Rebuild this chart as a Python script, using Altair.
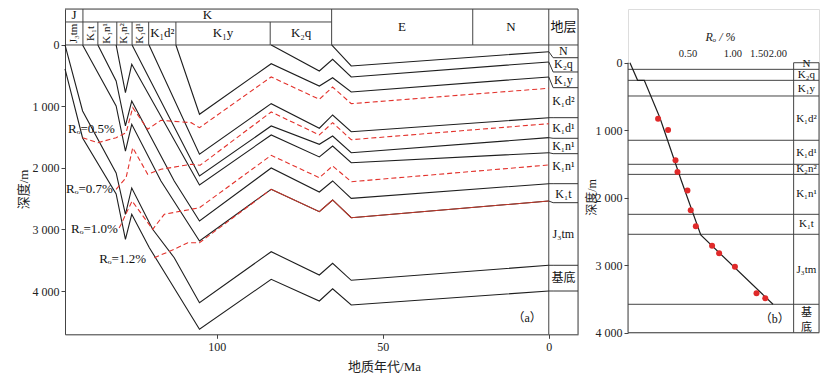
import altair as alt
import pandas as pd

FONT = "Liberation Serif, Noto Sans CJK SC"
BLACK = "#1e1e1e"
RED = "#e3312b"

# ---------------- panel (a): burial history ----------------
AGE_LEFT, AGE_RIGHT = 145.7, -8.8
DEPTH_TOP, DEPTH_BOTTOM = -585, 4704

horizon_names = ["K2q", "K1y", "K1d2", "K1d1", "K1n2", "K1n1", "K1t", "J3tm", "basement", "deep"]
horizon_ages = [
    [65.4, 59.5, 0],
    [83.6, 69.1, 65.1, 59.5, 0],
    [112.3, 105.2, 83.6, 69.1, 65.1, 59.5, 0],
    [120.4, 105.2, 83.6, 69.1, 65.1, 59.5, 0],
    [125.5, 105.2, 83.6, 69.1, 65.1, 59.5, 0],
    [130.3, 127.5, 125.6, 105.2, 83.6, 69.1, 65.1, 59.5, 0],
    [135.8, 130.3, 127.5, 125.6, 112.8, 105.2, 83.6, 69.1, 65.1, 59.5, 0],
    [140.4, 130.3, 127.5, 125.6, 116.8, 105.2, 83.6, 69.1, 65.1, 59.5, 0],
    [145.7, 140.4, 130.3, 127.5, 125.6, 119.3, 112.8, 105.2, 83.6, 69.1, 65.1, 59.5, 0],
    [145.7, 140.4, 130.3, 127.5, 125.6, 120.3, 113.8, 105.2, 83.6, 69.1, 65.1, 59.5, 0],
]
horizon_depths = [
    [0, 341, 109],
    [0, 423, 233, 520, 276],
    [0, 1127, 304, 667, 532, 764, 520],
    [0, 1777, 954, 1354, 1138, 1410, 1182],
    [0, 2130, 1317, 1615, 1480, 1751, 1507],
    [0, 776, 314, 2276, 1463, 1821, 1642, 1914, 1751],
    [0, 585, 1317, 911, 2211, 2862, 2000, 2390, 2211, 2493, 2255],
    [0, 992, 1724, 1289, 2211, 3187, 2346, 2711, 2520, 2808, 2537],
    [0, 1073, 2081, 2753, 2325, 2997, 3459, 4190, 3361, 3740, 3550, 3826, 3582],
    [390, 1512, 2423, 3159, 2753, 3296, 3865, 4623, 3810, 4163, 3963, 4228, 4000],
]

ro_names = ["0.5", "0.7", "1.0", "1.2"]
ro_ages = [
    [140.4, 135.8, 130.3, 127.3, 125.3, 120.8, 116.8, 107.7, 105.2, 83.6, 69.1, 65.1, 59.5, 0],
    [130.3, 127.3, 125.3, 120.8, 116.8, 107.7, 105.0, 83.6, 69.1, 65.1, 59.5, 0],
    [129.4, 128.8, 125.5, 119.3, 115.8, 105.2, 83.6, 69.1, 65.1, 59.5, 0],
    [118.8, 112.8, 108.7, 105.2, 83.6],
]
ro_depths = [
    [1507, 1589, 1507, 1426, 1019, 1371, 1224, 1263, 1345, 520, 883, 683, 954, 704],
    [2346, 2158, 1670, 2102, 2021, 1940, 1956, 1089, 1463, 1263, 1540, 1280],
    [2976, 2915, 2537, 2997, 2753, 2646, 1794, 2158, 1967, 2223, 1951],
    [3459, 3322, 3215, 3215, 2346],
]
ro12_solid_ages = [83.6, 69.1, 65.1, 59.5, 0]
ro12_solid_depths = [2346, 2711, 2520, 2808, 2537]

ro_label_text = ["Rₒ=0.5%", "Rₒ=0.7%", "Rₒ=1.0%", "Rₒ=1.2%"]
ro_label_age = [144.8, 145.4, 143.9, 135.4]
ro_label_depth = [1366, 2346, 2987, 3480]

# stratigraphic header
HDR_ROW = -374
hdr_top_text = ["J", "K"]
hdr_top_age = [143.0, 102.8]
hdr_full_text = ["E", "N", "地层"]
hdr_full_age = [44.2, 11.4, -4.4]
hdr_vert_text = ["J₃tm", "K₁t", "K₁n¹", "K₁n²", "K₁d¹"]
hdr_vert_age = [143.0, 138.0, 133.0, 127.8, 123.0]
hdr_horz_text = ["K₁d²", "K₁y", "K₂q"]
hdr_horz_age = [116.4, 98.1, 74.6]
full_dividers = [140.3, 65.4, 22.9]
row_dividers = [135.8, 130.1, 125.5, 120.5, 112.3, 83.9]

# formation column on the right of panel (a)
col_end_depth = [109, 276, 520, 1182, 1507, 1751, 2255, 2537, 3582, 4000]
col_box_depth = [207, 439, 694, 1182, 1517, 1767, 2255, 2564, 3582, 4000]
col_text = ["N", "K₂q", "K₁y", "K₁d²", "K₁d¹", "K₁n¹", "K₁n¹", "K₁t", "J₃tm", "基底"]
col_text_depth = [104, 314, 574, 911, 1345, 1642, 1967, 2423, 3078, 3784]

# ---------------- panel (b): Ro profile ----------------
RO_MIN, RO_MAX, RO_COL = 0.2, 3.8, 2.57
B_DEPTH_TOP, B_DEPTH_BOTTOM = -796, 4000
b_bound_depths = [98, 261, 493, 1149, 1505, 1654, 2246, 2542, 3579]
b_text = ["N", "K₂q", "K₁y", "K₁d²", "K₁d¹", "K₂n²", "K₁n¹", "K₁t", "J₃tm", "基", "底"]
b_text_depth = [22, 178, 385, 839, 1333, 1579, 1950, 2394, 3076, 3704, 3926]
obs_ro = [0.318, 0.371, 0.416, 0.429, 0.50, 0.526, 0.569, 0.731, 0.815, 1.04, 1.45, 1.66]
obs_depth = [830, 997, 1446, 1619, 1893, 2187, 2424, 2711, 2824, 3022, 3416, 3490]
fit_ro = [0.206, 0.232, 0.257, 0.327, 0.456, 0.614, 1.87]
fit_depth = [0, 261, 261, 815, 1753, 2553, 3579]


def polylines(names, ages_list, depths_list):
    rows = []
    for n, ages, depths in zip(names, ages_list, depths_list):
        for i, (a, d) in enumerate(zip(ages, depths)):
            rows.append({"line": n, "i": i, "age": a, "depth": d})
    return pd.DataFrame(rows)


def XA():
    return alt.X("age:Q",
                 scale=alt.Scale(domain=[AGE_RIGHT, AGE_LEFT], reverse=True, nice=False, zero=False),
                 axis=alt.Axis(values=[100, 50, 0], title="地质年代/Ma", grid=False, tickSize=4,
                               labelPadding=3, labelFontSize=12, titleFontSize=13,
                               titleFontWeight="normal", titleX=319, titleY=32, titleBaseline="middle",
                               domainColor="#444", tickColor="#444", labelColor="#222",
                               titleColor="#222", labelFont=FONT, titleFont=FONT))


def YA():
    return alt.Y("depth:Q",
                 scale=alt.Scale(domain=[DEPTH_TOP, DEPTH_BOTTOM], reverse=True, nice=False, zero=False),
                 axis=alt.Axis(values=[0, 1000, 2000, 3000, 4000],
                               labelExpr="replace(format(datum.value, ','), ',', ' ')",
                               title="深度/m", grid=False, tickSize=4, labelPadding=2,
                               labelFontSize=12, titleFontSize=13, titleFontWeight="normal",
                               titleAngle=270, titleBaseline="bottom", titleX=-35, titleY=180,
                               domainColor="#444", tickColor="#444", labelColor="#222",
                               titleColor="#222", labelFont=FONT, titleFont=FONT))


hz_df = polylines(horizon_names, horizon_ages, horizon_depths)
ro_df = polylines(ro_names, ro_ages, ro_depths)
ro_solid_df = polylines(["1.2"], [ro12_solid_ages], [ro12_solid_depths])

# header and frame segments
seg = [
    {"age": AGE_LEFT, "age2": AGE_RIGHT, "depth": DEPTH_TOP, "depth2": DEPTH_TOP},
    {"age": AGE_LEFT, "age2": AGE_RIGHT, "depth": 0, "depth2": 0},
    {"age": AGE_LEFT, "age2": 65.4, "depth": HDR_ROW, "depth2": HDR_ROW},
    {"age": 0, "age2": 0, "depth": DEPTH_TOP, "depth2": DEPTH_BOTTOM},
    {"age": AGE_RIGHT, "age2": AGE_RIGHT, "depth": DEPTH_TOP, "depth2": DEPTH_BOTTOM},
]
for a in full_dividers:
    seg.append({"age": a, "age2": a, "depth": DEPTH_TOP, "depth2": 0})
for a in row_dividers:
    seg.append({"age": a, "age2": a, "depth": HDR_ROW, "depth2": 0})
seg_df = pd.DataFrame(seg)

conn_rows = []
for k, (e, b) in enumerate(zip(col_end_depth, col_box_depth)):
    conn_rows += [{"line": k, "i": 0, "age": 0, "depth": e},
                  {"line": k, "i": 1, "age": -1.3, "depth": b},
                  {"line": k, "i": 2, "age": AGE_RIGHT, "depth": b}]
conn_df = pd.DataFrame(conn_rows)

frame_a = alt.Chart(seg_df).mark_rule(color="#444", strokeWidth=1).encode(
    x=XA(), x2="age2:Q", y=YA(), y2="depth2:Q")
conn_a = alt.Chart(conn_df).mark_line(color="#333", strokeWidth=1).encode(
    x=XA(), y=YA(), detail="line:N", order="i:Q")
hz_a = alt.Chart(hz_df).mark_line(color=BLACK, strokeWidth=1.1).encode(
    x=XA(), y=YA(), detail="line:N", order="i:Q")
ro_a = alt.Chart(ro_df).mark_line(color=RED, strokeWidth=1.1, strokeDash=[5, 3]).encode(
    x=XA(), y=YA(), detail="line:N", order="i:Q")
ro_solid_a = alt.Chart(ro_solid_df).mark_line(color="#c0392b", strokeWidth=1.1).encode(
    x=XA(), y=YA(), detail="line:N", order="i:Q")

ro_lab_df = pd.DataFrame({"t": ro_label_text, "age": ro_label_age, "depth": ro_label_depth})
ro_lab = alt.Chart(ro_lab_df).mark_text(font=FONT, fontSize=13, align="left", baseline="middle",
                                        color="#111").encode(x=XA(), y=YA(), text="t:N")

top_df = pd.DataFrame({"t": hdr_top_text, "age": hdr_top_age, "depth": [-480] * len(hdr_top_text)})
full_df = pd.DataFrame({"t": hdr_full_text, "age": hdr_full_age, "depth": [-293] * len(hdr_full_text)})
horz_df = pd.DataFrame({"t": hdr_horz_text, "age": hdr_horz_age, "depth": [-187] * len(hdr_horz_text)})
vert_df = pd.DataFrame({"t": hdr_vert_text, "age": hdr_vert_age, "depth": [-187] * len(hdr_vert_text)})
col_df = pd.DataFrame({"t": col_text, "age": [-4.4] * len(col_text), "depth": col_text_depth})

hdr1 = alt.Chart(pd.concat([top_df, full_df, horz_df])).mark_text(
    font=FONT, fontSize=13, baseline="middle", color="#111").encode(x=XA(), y=YA(), text="t:N")
hdr2 = alt.Chart(vert_df).mark_text(font=FONT, fontSize=11, baseline="middle", angle=270,
                                     color="#111").encode(x=XA(), y=YA(), text="t:N")
col_lab = alt.Chart(col_df).mark_text(font=FONT, fontSize=12, baseline="middle",
                                       color="#111").encode(x=XA(), y=YA(), text="t:N")
tag_a = alt.Chart(pd.DataFrame({"t": ["（a）"], "age": [6.5], "depth": [4439]})).mark_text(
    font=FONT, fontSize=12, baseline="middle", color="#111").encode(x=XA(), y=YA(), text="t:N")

panel_a = alt.layer(frame_a, conn_a, hz_a, ro_a, ro_solid_a, ro_lab, hdr1, hdr2, col_lab, tag_a).properties(
    width=513, height=325.3)


# ---------------- panel (b) ----------------
def XB():
    return alt.X("ro:Q",
                 scale=alt.Scale(type="log", domain=[RO_MIN, RO_MAX], nice=False, zero=False),
                 axis=alt.Axis(orient="top", values=[0.5, 1.0, 1.5, 2.0], format=".2f", offset=-53.7,
                               domain=False, ticks=False, grid=False, labelPadding=4,
                               labelOverlap=False, labelFontSize=10.5, title="Rₒ / %", titleFontSize=12,
                               titleFontWeight="normal", titleFontStyle="italic",
                               titleX=92, titleY=-26, titleBaseline="middle",
                               labelColor="#222", titleColor="#222", labelFont=FONT, titleFont=FONT))


def YB():
    return alt.Y("depth:Q",
                 scale=alt.Scale(domain=[B_DEPTH_TOP, B_DEPTH_BOTTOM], reverse=True, nice=False, zero=False),
                 axis=alt.Axis(values=[0, 1000, 2000, 3000, 4000],
                               labelExpr="replace(format(datum.value, ','), ',', ' ')",
                               title="深度/m", domain=False, grid=False, tickSize=4, labelPadding=2,
                               labelFontSize=12, titleFontSize=12, titleFontWeight="normal",
                               titleAngle=270, titleBaseline="bottom", titleX=-30, titleY=188,
                               tickColor="#444", labelColor="#222", titleColor="#222",
                               labelFont=FONT, titleFont=FONT))


b_seg = [
    {"ro": RO_MIN, "ro2": RO_MIN, "depth": 0, "depth2": B_DEPTH_BOTTOM},
    {"ro": RO_COL, "ro2": RO_COL, "depth": 0, "depth2": B_DEPTH_BOTTOM},
    {"ro": RO_MAX, "ro2": RO_MAX, "depth": 0, "depth2": B_DEPTH_BOTTOM},
    {"ro": RO_MIN, "ro2": RO_MAX, "depth": B_DEPTH_BOTTOM, "depth2": B_DEPTH_BOTTOM},
    {"ro": RO_COL, "ro2": RO_MAX, "depth": 0, "depth2": 0},
]
for d in b_bound_depths:
    b_seg.append({"ro": RO_MIN, "ro2": RO_MAX, "depth": d, "depth2": d})
b_seg_df = pd.DataFrame(b_seg)

frame_b = alt.Chart(b_seg_df).mark_rule(color="#444", strokeWidth=1).encode(
    x=XB(), x2="ro2:Q", y=YB(), y2="depth2:Q")
fit_b = alt.Chart(pd.DataFrame({"ro": fit_ro, "depth": fit_depth, "i": list(range(len(fit_ro)))})).mark_line(
    color=BLACK, strokeWidth=1.2).encode(x=XB(), y=YB(), order="i:Q")
pts_b = alt.Chart(pd.DataFrame({"ro": obs_ro, "depth": obs_depth})).mark_circle(
    color="#e02a2a", size=36, opacity=1).encode(x=XB(), y=YB())
lab_b = alt.Chart(pd.DataFrame({"t": b_text, "ro": [3.13] * len(b_text), "depth": b_text_depth})).mark_text(
    font=FONT, fontSize=11, baseline="middle", color="#111").encode(x=XB(), y=YB(), text="t:N")
tag_b = alt.Chart(pd.DataFrame({"t": ["（b）"], "ro": [1.92], "depth": [3800]})).mark_text(
    font=FONT, fontSize=12, baseline="middle", color="#111").encode(x=XB(), y=YB(), text="t:N")

panel_b = alt.layer(frame_b, fit_b, pts_b, lab_b, tag_b).properties(width=191, height=323.7)

chart = alt.hconcat(panel_a, panel_b, spacing=50, bounds="flush").properties(
    padding={"left": 8, "top": 0, "right": 0, "bottom": 0}
).configure_view(stroke=None).configure(font=FONT)

chart.save("out.html", embed_options={"renderer": "svg", "actions": False})
